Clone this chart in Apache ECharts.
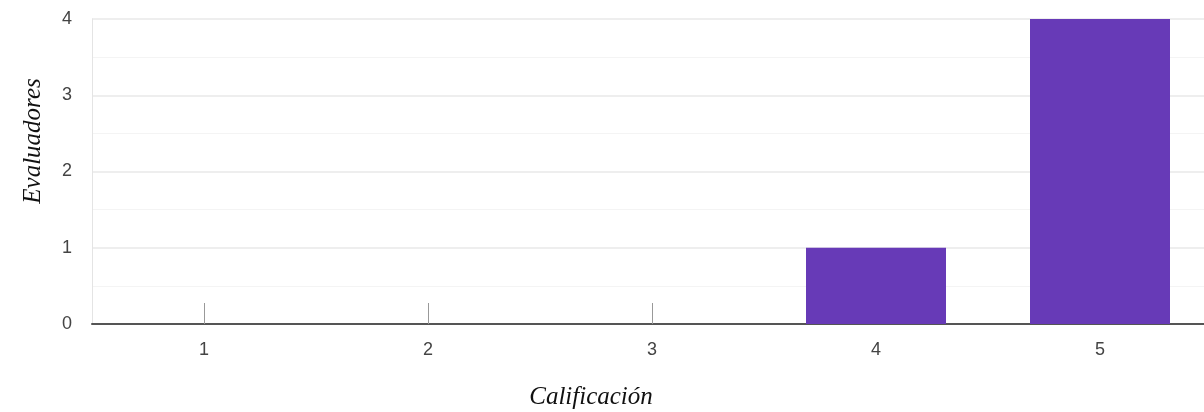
<!DOCTYPE html>
<html>
<head>
<meta charset="utf-8">
<style>
  html, body { margin: 0; padding: 0; background: #fff; overflow: hidden; }
  /* plot area runs a few pixels past the right edge of the page */
  #chart { width: 1212px; height: 412px; }
</style>
<script src="https://cdn.jsdelivr.net/npm/echarts@6/dist/echarts.min.js"></script>
</head>
<body>
<div id="chart"></div>
<script>
// Rating scale and how many evaluators gave each rating
const categories = ['1', '2', '3', '4', '5'];
const evaluators = [0, 0, 0, 1, 4];
const yTicks = [0, 1, 2, 3, 4];

const xTitle = 'Calificación';
const yTitle = 'Evaluadores';

const chart = echarts.init(document.getElementById('chart'), null, { renderer: 'canvas' });

const titleStyle = {
  fontFamily: '"Liberation Serif", "Times New Roman", serif',
  fontStyle: 'italic',
  fontSize: 25,
  fill: '#111',
  shadowColor: 'rgba(0,0,0,0.35)',
  shadowBlur: 3,
  shadowOffsetY: 2
};

chart.setOption({
  animation: false,
  grid: { left: 92, top: 19, right: 0, bottom: 88, containLabel: false },
  xAxis: {
    type: 'category',
    data: categories,
    axisLine: { show: true, lineStyle: { color: '#555', width: 2 } },
    axisTick: {
      show: true, inside: true, length: 21, alignWithLabel: true,
      lineStyle: { color: '#999', width: 1 }
    },
    axisLabel: {
      color: '#444', fontSize: 18, margin: 17,
      fontFamily: '"Liberation Sans", Arial, sans-serif'
    },
    splitLine: { show: false }
  },
  yAxis: {
    type: 'value',
    min: yTicks[0],
    max: yTicks[yTicks.length - 1],
    interval: 1,
    axisLine: { show: true, lineStyle: { color: '#e4e4e4', width: 1 } },
    axisTick: { show: false },
    axisLabel: {
      color: '#444', fontSize: 18, margin: 20,
      fontFamily: '"Liberation Sans", Arial, sans-serif'
    },
    splitLine: { show: true, lineStyle: { color: '#e8e8e8', width: 1.5 } },
    minorTick: { show: false, splitNumber: 2 },
    minorSplitLine: { show: true, lineStyle: { color: '#f4f4f4', width: 1 } }
  },
  series: [{
    type: 'bar',
    data: evaluators,
    barWidth: '62.5%',
    itemStyle: { color: '#673ab7', borderWidth: 0 },
    z: 3
  }],
  graphic: [
    {
      type: 'text',
      x: 33, y: 141,
      rotation: Math.PI / 2,
      style: Object.assign({ text: yTitle, textAlign: 'center', textVerticalAlign: 'middle' }, titleStyle)
    },
    {
      type: 'text',
      x: 591, y: 397,
      style: Object.assign({ text: xTitle, textAlign: 'center', textVerticalAlign: 'middle' }, titleStyle)
    }
  ]
});
</script>
</body>
</html>
